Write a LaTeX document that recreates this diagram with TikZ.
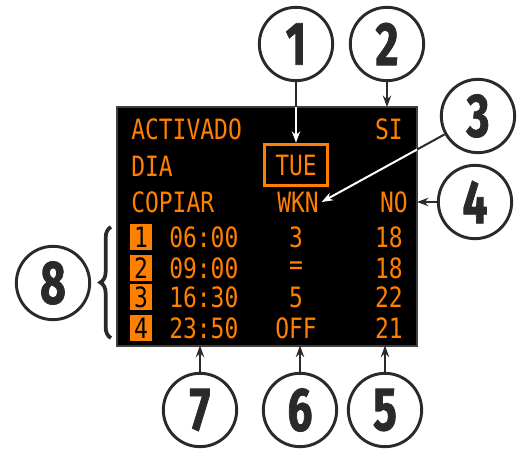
\documentclass[tikz,border=0pt]{standalone}
\usepackage{fontspec}
\newfontfamily\lcdfont[FakeStretch=0.82]{DejaVu Sans Mono}
\newfontfamily\callfont[FakeStretch=0.72,FakeBold=1.2]{Fira Sans}
\usetikzlibrary{positioning,arrows.meta,decorations.pathreplacing}
\definecolor{lcdorange}{RGB}{255,128,0}
\definecolor{inkgray}{RGB}{42,42,42}

\begin{document}
\begin{tikzpicture}[x=0.75pt,y=-0.75pt,>={Stealth[length=3mm,width=2.2mm]},
  lcd/.style={font=\lcdfont\fontsize{21}{22}\selectfont,text=lcdorange,inner sep=0pt},
  numbox/.style={lcd,fill=lcdorange,text=black,minimum width=16pt,minimum height=19pt},
  callout/.style={circle,draw=inkgray,line width=2.2pt,minimum size=55pt,inner sep=0pt,
    text=inkgray,font=\callfont\bfseries\fontsize{46}{46}\selectfont},
  lead/.style={line width=1.5pt,draw=inkgray}]
\useasboundingbox (0,0) rectangle (522,449);

% display
\node (scr) [anchor=north west,draw=black!75,fill=black,line width=1.5pt,inner sep=0pt,
  outer sep=0pt,minimum width=225pt,minimum height=179pt] at (117,107) {};

\node (act) [lcd,anchor=west] at (131,129) {ACTIVADO};
\node (dia) [lcd,anchor=west] at (131,166) {DIA};
\node (cop) [lcd,anchor=west] at (131,202) {COPIAR};
\node (si)  [lcd,anchor=east] at (403,129) {SI};
\node (no)  [lcd,anchor=east] at (408,202) {NO};
\node (tue) [lcd,draw=lcdorange,line width=2.4pt,minimum width=47pt,minimum height=31pt] at (296,165) {TUE};
\node (wkn) [lcd,inner xsep=2pt] at (298,202) {WKN};

% program rows
\foreach \i/\t/\m/\r/\y in {1/06:00/3/18/237,2/09:00/=/18/268,3/16:30/5/22/297,4/23:50/OFF/21/328}{
  \node (n\i) [numbox] at (141,\y) {\i};
  \node (t\i) [lcd,anchor=west] at (169,\y) {\t};
  \node (m\i) [lcd] at (296,\y) {\m};
  \node (r\i) [lcd,anchor=east] at (403,\y) {\r};
}

% callouts
\node (c1) [callout] at (296,44) {1};
\node (c2) [callout] at (387,44) {2};
\node (c3) [callout] at (478,116) {3};
\node (c4) [callout] at (475,202) {4};
\node (c5) [callout] at (385,410) {5};
\node (c6) [callout] at (300,410) {6};
\node (c7) [callout] at (200,410) {7};
\node (c8) [callout] at (53,283) {8};

\draw[lead,draw=white,->] (c1) -- (tue);
\draw[lead,draw=white,->] (c3) -- (wkn.east);
\begin{scope}
  \clip (0,0) rectangle (522,107);
  \draw[lead] (c1) -- (tue);
\end{scope}
\begin{scope}
  \clip (417,0) rectangle (522,449);
  \draw[lead] (c3) -- (wkn.east);
\end{scope}
\draw[lead,->] (c2) -- (c2 |- scr.north);
\draw[lead,->] (c4) -- (c4 -| scr.east);
\draw[lead,->] (c5) -- (c5 |- scr.south);
\draw[lead,->] (c6) -- (c6 |- scr.south);
\draw[lead,->] (c7) -- (c7 |- scr.south);
\draw[inkgray,line width=2.8pt,decorate,decoration={brace,amplitude=8pt}]
  (111,338) -- (111,227);
\end{tikzpicture}
\end{document}
